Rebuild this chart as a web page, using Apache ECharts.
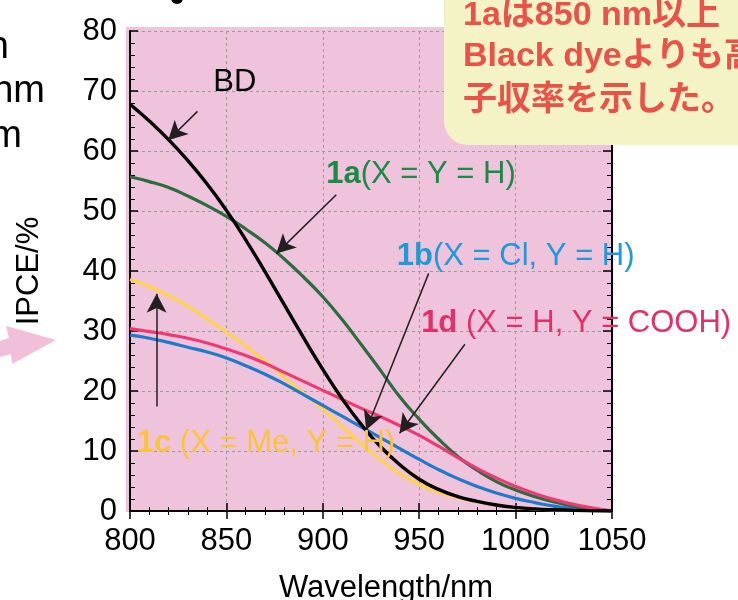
<!DOCTYPE html>
<html>
<head>
<meta charset="utf-8">
<script src="https://cdn.jsdelivr.net/npm/echarts@6/dist/echarts.min.js"></script>
<style>
html, body { margin: 0; padding: 0; background: #fff; }
#chart { width: 738px; height: 600px; }
</style>
</head>
<body>
<div id="chart"></div>
<script>
// IPCE spectra, every 10 nm
const wavelength = [800, 810, 820, 830, 840, 850, 860, 870, 880, 890, 900, 910, 920,
  930, 940, 950, 960, 970, 980, 990, 1000, 1010, 1020, 1030, 1040, 1050]
const ipceBD = [67.8, 65.0, 61.9, 58.4, 54.5, 50.1, 45.2, 39.9, 34.4, 28.9, 23.6, 18.7, 14.4,
  10.7, 7.7, 5.3, 3.6, 2.4, 1.6, 1.0, 0.6, 0.35, 0.2, 0.1, 0.05, 0]
const ipce1a = [55.7, 54.9, 53.9, 52.5, 50.9, 49.1, 47.0, 44.7, 42.0, 39.0, 35.7, 31.9, 27.7,
  23.4, 19.0, 15.3, 12.0, 9.1, 6.8, 4.9, 3.5, 2.4, 1.5, 0.8, 0.3, 0]
const ipce1b = [29.3, 28.8, 28.1, 27.3, 26.5, 25.5, 24.2, 22.8, 21.2, 19.4, 17.6, 15.8, 14.0,
  12.2, 10.4, 8.6, 6.9, 5.4, 4.1, 3.0, 2.1, 1.4, 0.8, 0.4, 0.15, 0]
const ipce1c = [38.6, 37.4, 35.9, 34.1, 32.0, 29.8, 27.5, 25.0, 22.3, 19.6, 17.0, 14.1, 11.2,
  8.5, 6.2, 4.4, 3.1, 2.2, 1.5, 1.0, 0.6, 0.35, 0.2, 0.1, 0.05, 0]
const ipce1d = [30.4, 29.9, 29.4, 28.8, 28.0, 27.0, 25.9, 24.6, 23.1, 21.6, 20.1, 18.6, 17.1,
  15.7, 14.2, 12.6, 10.8, 8.9, 7.1, 5.5, 4.1, 2.9, 1.9, 1.1, 0.5, 0]

// annotation labels (left edge, middle) and arrows, in data units
const labelText = ['BD', '{b|1a}(X = Y = H)', '{b|1b}(X = Cl, Y = H)', '{b|1d} (X = H, Y = COOH)', '{b|1c} (X = Me, Y = H)']
const labelAt = [[843.2, 71.5], [901.8, 56.1], [938.4, 42.4], [951, 31.3], [803.5, 11.2]]
const labelColor = ['#000000', '#1b8a47', '#1e9ad6', '#e2306b', '#f9c33d']
const arrowTail = [[835, 66.6], [907, 52.7], [954.9, 39.6], [973.7, 27.8], [813.8, 17.4]]
const arrowTip = [[819.8, 61.8], [875.9, 42.9], [922.5, 13.5], [939.8, 12.95], [813.8, 36.2]]

const FONT = "'Liberation Sans', Arial, sans-serif"
const JP = "'Liberation Sans', 'Noto Sans CJK JP', sans-serif"

const pairs = arr => wavelength.map((w, i) => [w, arr[i]])

const curve = (name, arr, color, width) => ({
  name,
  type: 'line',
  data: pairs(arr),
  smooth: 0.5,
  showSymbol: false,
  silent: true,
  animation: false,
  lineStyle: {color, width},
  xAxisIndex: 0,
  yAxisIndex: 0
})

const chart = echarts.init(document.getElementById('chart'), null, {renderer: 'canvas'})

const tickStyle = {color: '#000', width: 1.5}
const minorStyle = {color: '#000', width: 1}

chart.setOption({
  animation: false,
  grid: {left: 130, right: 126, top: 31, bottom: 89, containLabel: false, outerBoundsMode: 'none'},
  xAxis: [{
    type: 'value', min: 800, max: 1050, interval: 50, position: 'bottom',
    name: 'Wavelength/nm', nameLocation: 'middle', nameGap: 62,
    nameTextStyle: {fontSize: 31, color: '#000', fontFamily: FONT, padding: [0, 0, 0, 30]},
    axisLine: {lineStyle: {color: '#000', width: 2}},
    axisTick: {inside: true, length: 8, lineStyle: tickStyle},
    minorTick: {show: true, splitNumber: 5, length: 4, lineStyle: minorStyle},
    axisLabel: {fontSize: 31, color: '#000', fontFamily: FONT, margin: 15, formatter: v => String(v)},
    splitLine: {show: true, lineStyle: {color: '#9a9a9a', width: 1, type: [3, 3]}}
  }, {
    type: 'value', min: 800, max: 1050, interval: 50, position: 'top',
    axisLine: {lineStyle: {color: '#000', width: 2}},
    axisTick: {inside: true, length: 8, lineStyle: tickStyle},
    minorTick: {show: true, splitNumber: 5, length: 4, lineStyle: minorStyle},
    axisLabel: {show: false},
    splitLine: {show: false}
  }],
  yAxis: [{
    type: 'value', min: 0, max: 80, interval: 10, position: 'left',
    name: 'IPCE/%', nameLocation: 'middle', nameGap: 85,
    nameTextStyle: {fontSize: 31, color: '#000', fontFamily: FONT},
    axisLine: {show: true, lineStyle: {color: '#000', width: 2}},
    axisTick: {show: true, inside: true, length: 8, lineStyle: tickStyle},
    minorTick: {show: true, splitNumber: 5, length: 5, lineStyle: minorStyle},
    axisLabel: {fontSize: 31, color: '#000', fontFamily: FONT, margin: 13},
    splitLine: {show: true, lineStyle: {color: '#9a9a9a', width: 1, type: [3, 3]}}
  }, {
    type: 'value', min: 0, max: 80, interval: 10, position: 'right',
    axisLine: {show: true, lineStyle: {color: '#000', width: 2}},
    axisTick: {show: true, inside: true, length: 9, lineStyle: tickStyle},
    minorTick: {show: true, splitNumber: 5, length: 5, lineStyle: minorStyle},
    axisLabel: {show: false},
    splitLine: {show: false}
  }],
  series: [
    curve('1c', ipce1c, '#ffd34a', 3.2),
    curve('1b', ipce1b, '#1f7bc9', 3.2),
    curve('1a', ipce1a, '#2b6b3e', 3.2),
    curve('1d', ipce1d, '#ee3a72', 3.2),
    curve('BD', ipceBD, '#000000', 3.4),
    {
      name: 'notes',
      type: 'line',
      data: [],
      clip: false,
      silent: true,
      animation: false,
      markLine: {
        silent: true,
        animation: false,
        symbol: ['none', 'arrow'],
        symbolSize: [15, 19],
        lineStyle: {color: '#231f20', width: 1.5, type: 'solid'},
        label: {show: false},
        emphasis: {disabled: true},
        data: arrowTail.map((t, i) => [{coord: t}, {coord: arrowTip[i]}])
      },
      markPoint: {
        silent: true,
        animation: false,
        symbol: 'circle',
        symbolSize: 0,
        data: labelAt.map((p, i) => ({
          coord: p,
          label: {
            show: true,
            position: 'right',
            distance: 0,
            formatter: labelText[i],
            fontSize: 31,
            fontFamily: FONT,
            color: labelColor[i],
            rich: {b: {fontWeight: 'bold', fontSize: 31, fontFamily: FONT, color: labelColor[i]}}
          }
        }))
      }
    }
  ],
  graphic: [
    {type: 'rect', z: -10, silent: true, shape: {x: 126, y: 27, width: 486, height: 485},
      style: {fill: '#f0c3dc'}},
    {type: 'rect', z: 100, silent: true, shape: {x: 444, y: -30, width: 330, height: 175, r: 24},
      style: {fill: '#f3f3c5'}},
    {type: 'text', z: 101, silent: true, x: 463, y: 16,
      style: {text: '1aは850 nm以上', fill: '#ea5149', font: 'bold 34px ' + JP, verticalAlign: 'middle'}},
    {type: 'text', z: 101, silent: true, x: 463, y: 57,
      style: {text: 'Black dyeよりも高', fill: '#ea5149', font: 'bold 34px ' + JP, verticalAlign: 'middle'}},
    {type: 'text', z: 101, silent: true, x: 463, y: 101,
      style: {text: '子収率を示した。', fill: '#ea5149', font: 'bold 34px ' + JP, verticalAlign: 'middle'}},
    {type: 'text', silent: true, x: 9, y: 48,
      style: {text: 'n', fill: '#000', font: '38px ' + FONT, align: 'right', verticalAlign: 'middle'}},
    {type: 'text', silent: true, x: 45, y: 92,
      style: {text: 'nm', fill: '#000', font: '38px ' + FONT, align: 'right', verticalAlign: 'middle'}},
    {type: 'text', silent: true, x: 22, y: 137,
      style: {text: 'm', fill: '#000', font: '38px ' + FONT, align: 'right', verticalAlign: 'middle'}},
    {type: 'circle', silent: true, shape: {cx: 177, cy: -2, r: 6}, style: {fill: '#000'}},
    {type: 'polygon', silent: true,
      shape: {points: [[0, 341], [9, 338], [6, 326], [56, 340], [12, 364], [11, 354], [0, 357]]},
      style: {fill: '#f1bfd9'}}
  ]
})
</script>
</body>
</html>
